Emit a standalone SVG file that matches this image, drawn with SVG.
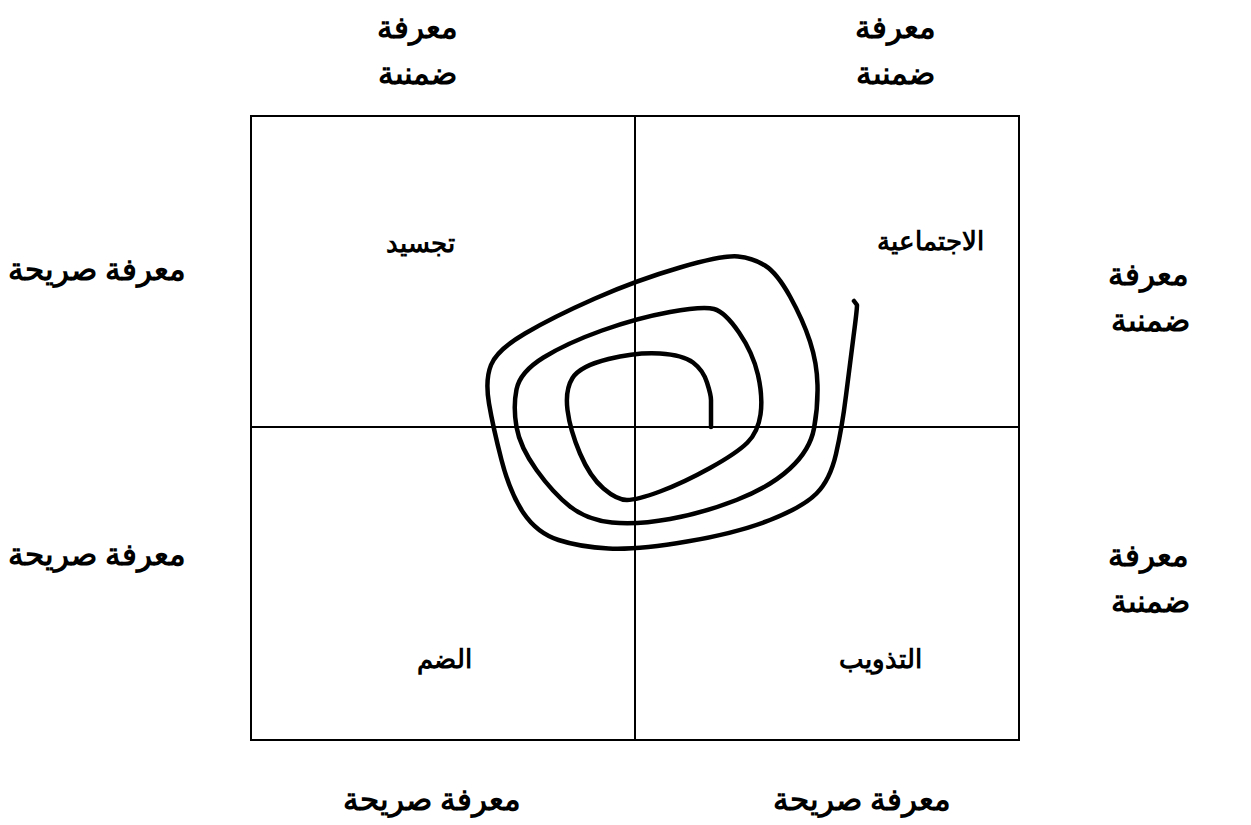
<svg xmlns="http://www.w3.org/2000/svg" width="1251" height="825" viewBox="0 0 1251 825">
<style>
.lbl{font-family:"Liberation Sans",Arial,sans-serif;font-weight:bold;font-size:31px;fill:#000;text-anchor:middle}
.in{font-family:"Liberation Sans",Arial,sans-serif;font-weight:bold;font-size:26px;fill:#000;text-anchor:middle}
.frame{fill:none;stroke:#000;stroke-width:2}
.spiral{fill:none;stroke:#000;stroke-width:4.5;stroke-linecap:round;stroke-linejoin:round}
</style>
<defs>
<clipPath id="c1"><rect x="300" y="0" width="250" height="86"/></clipPath>
<clipPath id="c2"><rect x="780" y="0" width="250" height="86"/></clipPath>
<clipPath id="c3"><rect x="1060" y="240" width="191" height="92"/></clipPath>
<clipPath id="c4"><rect x="1060" y="520" width="191" height="94"/></clipPath>
</defs>
<rect width="1251" height="825" fill="#fff"/>
<g id="frame">
<rect class="frame" x="251" y="116" width="768" height="624"/>
<line class="frame" x1="635" y1="116" x2="635" y2="740"/>
<line class="frame" x1="251" y1="427" x2="1019" y2="427"/>
</g>
<g id="spiral">
<path class="spiral" d="M711,427 L711,400 Q711,395 707,382.5 Q703,370 693,362.5 Q683,355 660,353.5 Q637,352 608.5,359 Q580,366 572.5,378 Q565,390 567.5,410 Q570,430 580,453.5 Q590,477 603.5,488.5 Q617,500 627,500 Q637,500 660,491.5 Q683,483 710,468 Q737,453 747.5,442.5 Q758,432 760.5,414.5 Q763,397 758,375 Q753,353 739,332.5 Q725,312 714,309 Q703,306 670,312 Q637,318 602,330.5 Q567,343 543.5,357.5 Q520,372 516.5,389.5 Q513,407 516.5,427 Q520,447 536.5,470 Q553,493 570,506.5 Q587,520 612,522.5 Q637,525 670,519 Q703,513 736.5,500 Q770,487 790,468.5 Q810,450 814,428.5 Q818,407 817.5,385 Q817,363 810,341.5 Q803,320 790,296.5 Q777,273 765,265.5 Q753,258 738,256.5 Q723,255 680,267.5 Q637,280 595,298.5 Q553,317 525,333.5 Q497,350 491,365 Q485,380 489,403.5 Q493,427 501.5,460 Q510,493 523.5,513 Q537,533 558.5,540 Q580,547 608.5,548.5 Q637,550 687,541.5 Q737,533 770,520 Q803,507 816.5,493.5 Q830,480 836,454 Q842,428 846,395.5 Q850,363 853.5,336.5 Q857,310 857,305 L854,301"/>
</g>
<g id="label-top-left" clip-path="url(#c1)">
<text class="lbl" x="417" y="38">معرفة</text>
<text class="lbl" x="417" y="84">ضمنية</text>
</g>
<g id="label-top-right" clip-path="url(#c2)">
<text class="lbl" x="895" y="38">معرفة</text>
<text class="lbl" x="895" y="84">ضمنية</text>
</g>
<g id="label-right-top" clip-path="url(#c3)">
<text class="lbl" x="1148" y="285">معرفة</text>
<text class="lbl" x="1150" y="331">ضمنية</text>
</g>
<g id="label-right-bottom" clip-path="url(#c4)">
<text class="lbl" x="1148" y="566">معرفة</text>
<text class="lbl" x="1150" y="612">ضمنية</text>
</g>
<g id="label-left-top"><text class="lbl" x="97" y="280">معرفة صريحة</text></g>
<g id="label-left-bottom"><text class="lbl" x="97" y="565">معرفة صريحة</text></g>
<g id="label-bottom-left"><text class="lbl" x="432" y="810">معرفة صريحة</text></g>
<g id="label-bottom-right"><text class="lbl" x="862" y="810">معرفة صريحة</text></g>
<g id="q-tl"><text class="in" x="420" y="252">تجسيد</text></g>
<g id="q-tr"><text class="in" x="930" y="250">الاجتماعية</text></g>
<g id="q-bl"><text class="in" x="444" y="668">الضم</text></g>
<g id="q-br"><text class="in" x="880" y="668">التذويب</text></g>
</svg>
